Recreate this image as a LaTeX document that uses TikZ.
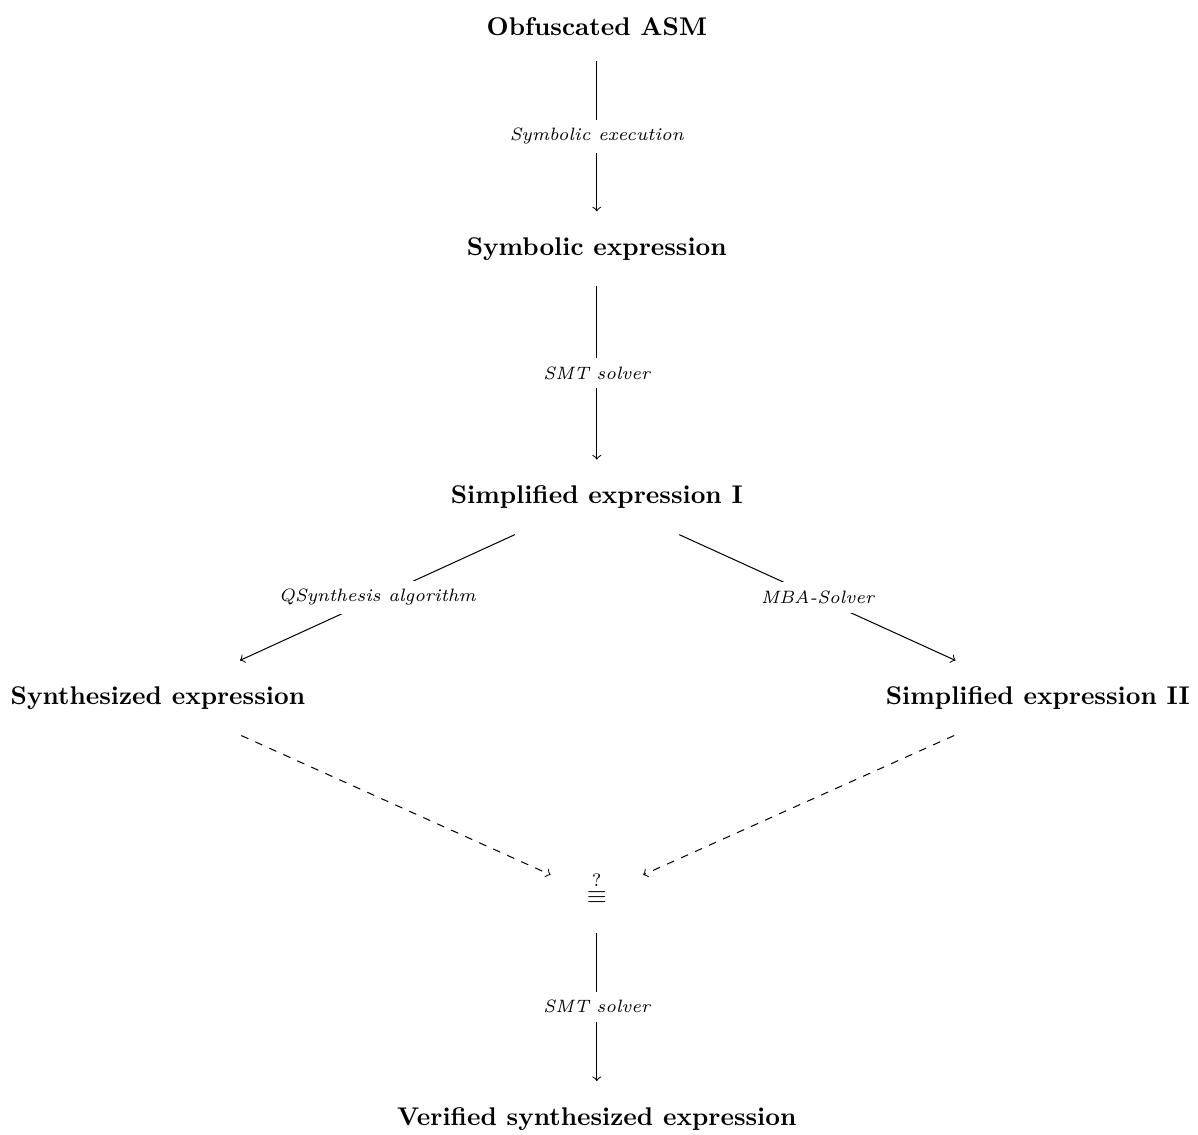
\documentclass[tikz,border=0pt]{standalone}
\usetikzlibrary{positioning}

\begin{document}
\begin{tikzpicture}[scale=1.0,
  stage/.style={font=\bfseries, inner sep=10pt},
  tool/.style={midway, fill=white, font=\scriptsize\itshape}]

\useasboundingbox (-8.20,-8.76) rectangle (8.26,6.83);

\node[stage] (asm) at (0,6.47) {Obfuscated ASM};
\node[stage] (sym) at (0,3.41) {Symbolic expression};
\node[stage] (simp) at (0,0) {Simplified expression I};
\node[stage] (synth) at (-6.03,-2.76) {Synthesized expression};
\node[stage] (simptwo) at (6.06,-2.76) {Simplified expression II};
\node[inner xsep=14pt, inner ysep=5pt, text depth=6pt] (eq) at (0,-5.475) {$\stackrel{?}{\equiv}$};
\node[stage] (ver) at (0,-8.54) {Verified synthesized expression};
%
\begin{scope}[>=to]
\draw[->] (asm) -- (sym) node [tool] {Symbolic execution};
\draw[->] (sym) -- (simp) node [tool] {SMT solver};
\draw[->] (simp) -- (synth) node [tool] {QSynthesis algorithm};
\draw[->] (simp) -- (simptwo) node [tool] {MBA-Solver};
\draw[->,dashed] (synth) -- (eq);
\draw[->,dashed] (simptwo) -- (eq);
\draw[->] (eq) -- (ver) node [tool] {SMT solver};
\end{scope}

\end{tikzpicture}
\end{document}
